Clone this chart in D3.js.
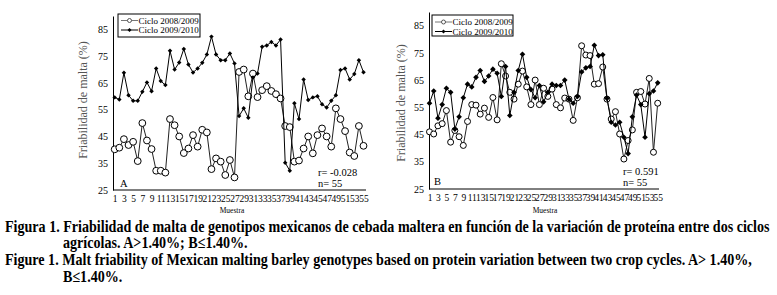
<!DOCTYPE html>
<html>
<head>
<meta charset="utf-8">
<script src="https://cdn.jsdelivr.net/npm/d3@7"></script>
<style>
    body { margin: 0; background: #fff; }
    svg text { font-family: "Liberation Serif", "Times New Roman", serif; }
</style>
</head>
<body>
<svg id="figure" width="777" height="295"></svg>
<script>
// categories (Muestra) and axis labels
const samples = [1, 2, 3, 4, 5, 6, 7, 8, 9, 10, 11, 12, 13, 14, 15, 16, 17, 18, 19, 20,
    21, 22, 23, 24, 25, 26, 27, 28, 29, 30, 31, 32, 33, 34, 35, 36, 37, 38, 39, 40,
    41, 42, 43, 44, 45, 46, 47, 48, 49, 50, 51, 52, 53, 54, 55];
const xTickLabels = [1, 3, 5, 7, 9, 11, 13, 15, 17, 19, 21, 23, 25, 27, 29, 31, 33, 35, 37, 39,
    41, 43, 45, 47, 49, 51, 53, 55];
const yTickLabels = [25, 35, 45, 55, 65, 75, 85];
const seriesNames = ["Ciclo 2008/2009", "Ciclo 2009/2010"];

// panel A: A > 1.40%
const cicloA_0809 = [40.2, 40.8, 44, 41.8, 43, 35.8, 50, 43.5, 40.3, 32.2,
    32.2, 31.5, 51.5, 49.2, 45, 38.8, 40.5, 45.5, 41.2, 47.5,
    46.5, 32.8, 36.8, 35.6, 30.6, 36.2, 29.7, 69.1, 70, 60,
    68.5, 59.7, 62.3, 63.8, 62, 60.8, 59.2, 48.9, 48.5, 35.6,
    36, 40.5, 45, 38.7, 45.5, 48, 45, 41.2, 55.5, 51.5,
    47, 39, 37.7, 48.9, 41.5];
const cicloA_0910 = [59.6, 58.8, 68.8, 60.4, 58.3, 58.3, 61.7, 65.2, 61.9, 70.4,
    65.7, 64.2, 77, 70, 72.6, 77.7, 71.9, 68.9, 70.4, 72.5,
    75.6, 82.3, 75.6, 73.5, 73.5, 76, 72.3, 52.6, 55.5, 52,
    67, 68.5, 78.5, 79, 80.3, 79, 81.2, 35.2, 32.2, 57.4,
    51.5, 66.3, 58.6, 59.6, 60, 57, 55.8, 58.3, 60.4, 69.8,
    70.4, 66.3, 68.3, 73.5, 69];

// panel B: B <= 1.40%
const cicloB_0809 = [46, 45.2, 48.2, 49, 53.8, 42.2, 46.5, 44.2, 41, 49.8,
    56, 55.8, 52.5, 54.7, 51.3, 58.6, 50.4, 71, 66.5, 60.5,
    58, 63.5, 68.3, 62.5, 56, 65, 56, 62, 59, 61.7,
    56, 54.8, 58.4, 58, 50.2, 58.5, 77.6, 74.2, 74, 63.5,
    63.7, 69.8, 58, 50.7, 53.4, 45.2, 36, 42.8, 46.7, 60.5,
    60.8, 56.2, 65.6, 38.5, 56.5];
const cicloB_0910 = [56.5, 61, 51, 56, 62, 60.5, 47, 51.5, 58.5, 63.5,
    62.5, 66, 68.5, 64.5, 66.5, 69, 67.5, 59, 70, 52,
    60.5, 68.5, 74.5, 66, 61.5, 58.5, 63, 57, 60.5, 63.5,
    63, 63, 65, 58, 56.5, 59, 68, 69.5, 70, 77.8,
    74, 74.3, 58.3, 49.5, 48.5, 49.5, 44, 38, 51.5, 59.5,
    56, 44, 60, 61, 64];

const captionLines = [
    "Figura 1. Friabilidad de malta de genotipos mexicanos de cebada maltera en función de la variación de proteína entre dos ciclos",
    "agrícolas. A>1.40%; B≤1.40%.",
    "Figure 1. Malt friability of Mexican malting barley genotypes based on protein variation between two crop cycles. A> 1.40%,",
    "B≤1.40%."
];


class LineChart {

    constructor(_config, _data) {
        this.config = _config;
        this.data = _data;
        this.initVis();
    }

    initVis() {
        let vis = this;
        let c = vis.config;

        vis.xScale = d3.scalePoint()
            .domain(samples)
            .range([c.xStart, c.xEnd]);

        vis.yScale = d3.scaleLinear()
            .domain([25, 90])
            .range([c.yBottom, c.yTop]);

        vis.chart = d3.select(c.parentElement).append('g')
            .attr('class', 'panel');

        vis.yAxis = d3.axisLeft(vis.yScale)
            .tickValues(yTickLabels)
            .tickSize(0)
            .tickPadding(5);

        vis.xAxis = d3.axisBottom(vis.xScale)
            .tickValues(xTickLabels)
            .tickSize(0)
            .tickPadding(5);

        vis.renderVis();
    }

    renderVis() {
        let vis = this;
        let c = vis.config;

        vis.chart.append('g')
            .attr('transform', `translate(${c.axisLeft},0)`)
            .call(vis.yAxis)
            .call(g => g.select('.domain').attr('stroke', '#000'))
            .call(g => g.selectAll('text')
                .attr('fill', '#000')
                .style('font-size', '10px'));

        vis.chart.append('g')
            .attr('transform', `translate(0,${c.yBottom})`)
            .call(vis.xAxis)
            .call(g => g.select('.domain').remove())
            .call(g => g.selectAll('text')
                .attr('fill', '#000')
                .style('font-size', '9.5px'));

        // x axis line
        vis.chart.append('line')
            .attr('x1', c.axisLeft).attr('x2', c.axisRight)
            .attr('y1', c.yBottom).attr('y2', c.yBottom)
            .attr('stroke', '#000');

        let line = d3.line()
            .x((d, i) => vis.xScale(samples[i]))
            .y(d => vis.yScale(d));

        // Ciclo 2008/2009 - open circles
        vis.chart.append('path')
            .datum(vis.data.first)
            .attr('d', line)
            .attr('fill', 'none')
            .attr('stroke', '#222')
            .attr('stroke-width', 1);

        vis.chart.selectAll('.dot-a')
            .data(vis.data.first)
            .join('circle')
            .attr('class', 'dot-a')
            .attr('cx', (d, i) => vis.xScale(samples[i]))
            .attr('cy', d => vis.yScale(d))
            .attr('r', c.circleR)
            .attr('fill', '#fff')
            .attr('stroke', '#000')
            .attr('stroke-width', 1);

        // Ciclo 2009/2010 - black diamonds
        vis.chart.append('path')
            .datum(vis.data.second)
            .attr('d', line)
            .attr('fill', 'none')
            .attr('stroke', '#000')
            .attr('stroke-width', 1);

        let diamond = d3.symbol(d3.symbolSquare, c.diamondSize);
        vis.chart.selectAll('.dot-b')
            .data(vis.data.second)
            .join('path')
            .attr('class', 'dot-b')
            .attr('d', diamond)
            .attr('transform', (d, i) => `translate(${vis.xScale(samples[i])},${vis.yScale(d)}) rotate(45)`)
            .attr('fill', '#000');

        // axis titles
        vis.chart.append('text')
            .attr('transform', `translate(${c.titleX},${c.titleY}) rotate(-90)`)
            .attr('text-anchor', 'middle')
            .attr('fill', '#555')
            .style('font-size', '12px')
            .text('Friabilidad de malta (%)');

        vis.chart.append('text')
            .attr('x', c.muestraX)
            .attr('y', 213)
            .attr('text-anchor', 'middle')
            .style('font-size', '7.5px')
            .text('Muestra');

        // panel letter and stats
        vis.chart.append('text')
            .attr('x', c.letterX).attr('y', c.letterY)
            .style('font-size', '10.5px')
            .text(c.letter);

        vis.chart.append('text')
            .attr('x', c.statX).attr('y', c.statY)
            .style('font-size', '10.5px')
            .text(c.rText);
        vis.chart.append('text')
            .attr('x', c.statX).attr('y', c.statY + 11)
            .style('font-size', '10.5px')
            .text('n= 55');

        // legend
        let lg = vis.chart.append('g')
            .attr('transform', `translate(${c.legend.x},${c.legend.y})`);
        lg.append('rect')
            .attr('width', c.legend.w).attr('height', c.legend.h)
            .attr('fill', '#fff')
            .attr('stroke', '#000');

        seriesNames.forEach(function (name, i) {
            let ly = c.legend.rows[i];
            lg.append('line')
                .attr('x1', 3).attr('x2', 20)
                .attr('y1', ly).attr('y2', ly)
                .attr('stroke', i === 0 ? '#777' : '#000');
            if (i === 0) {
                lg.append('circle')
                    .attr('cx', 11.5).attr('cy', ly)
                    .attr('r', 2)
                    .attr('fill', '#fff')
                    .attr('stroke', '#555');
            } else {
                lg.append('path')
                    .attr('d', d3.symbol(d3.symbolSquare, 8))
                    .attr('transform', `translate(11.5,${ly}) rotate(45)`)
                    .attr('fill', '#000');
            }
            lg.append('text')
                .attr('x', 20.5).attr('y', ly + 3.2)
                .style('font-size', '9px')
                .text(name);
        });
    }
}

const svg = d3.select('#figure');

new LineChart({
    parentElement: '#figure',
    xStart: 114.7, xEnd: 363.5,
    axisLeft: 113, axisRight: 366,
    yTop: 16, yBottom: 190,
    circleR: 3.4, diamondSize: 10,
    titleX: 87, titleY: 100,
    muestraX: 232,
    letter: 'A', letterX: 120, letterY: 187,
    statX: 318, statY: 176, rText: 'r= -0.028',
    legend: {x: 118, y: 14, w: 82, h: 23, rows: [6.5, 16]}
}, {first: cicloA_0809, second: cicloA_0910});

new LineChart({
    parentElement: '#figure',
    xStart: 429.5, xEnd: 657.7,
    axisLeft: 429, axisRight: 659,
    yTop: 12, yBottom: 189,
    circleR: 3, diamondSize: 16,
    titleX: 405, titleY: 103,
    muestraX: 545,
    letter: 'B', letterX: 434, letterY: 185,
    statX: 623, statY: 175, rText: 'r= 0.591',
    legend: {x: 432, y: 15, w: 81, h: 21, rows: [7, 16.5]}
}, {first: cicloB_0809, second: cicloB_0910});

// caption, bold and horizontally condensed
const captionX = [5, 63, 5, 63];
const captionY = [232, 248, 265, 282];
const caption = svg.append('g');
const capText = caption.selectAll('text')
    .data(captionLines)
    .join('text')
    .attr('y', (d, i) => captionY[i])
    .style('font-size', '16px')
    .style('font-weight', 'bold')
    .text(d => d);

const squeeze = 765 / capText.nodes()[0].getComputedTextLength();
capText
    .attr('x', (d, i) => captionX[i] / squeeze)
    .attr('transform', `scale(${squeeze},1)`);
</script>
</body>
</html>
